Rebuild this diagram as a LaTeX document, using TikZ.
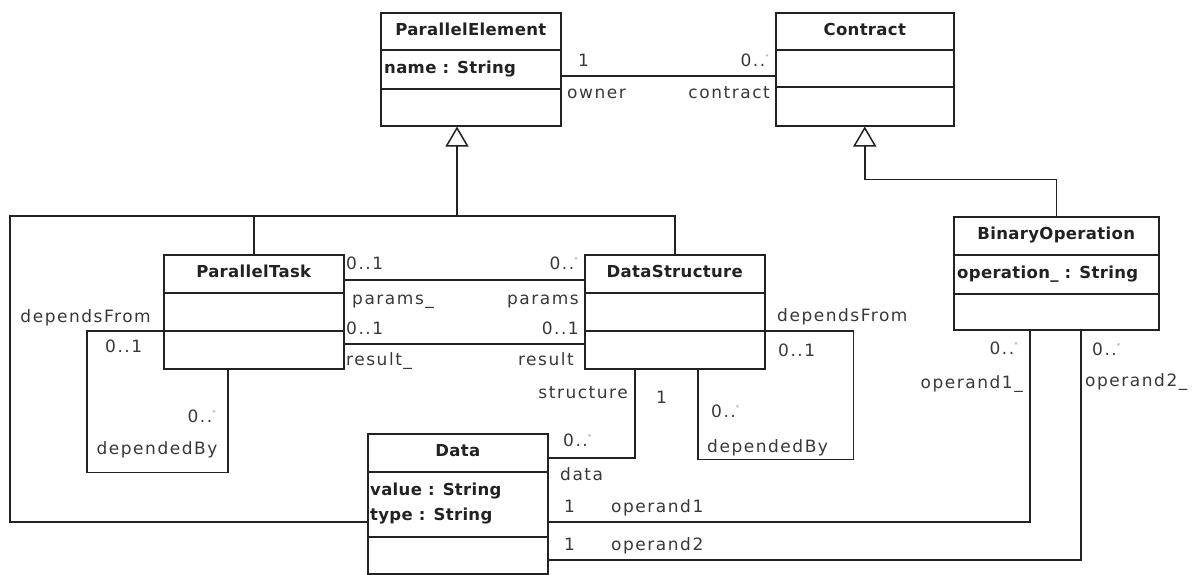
\documentclass[tikz,border=0pt]{standalone}
\usepackage{fontspec}
\setmainfont{DejaVu Sans}[LetterSpace=9]
\newfontfamily\clsfont{DejaVu Sans}[LetterSpace=2]
\usetikzlibrary{arrows.meta,calc,shadows}
\definecolor{ink}{HTML}{222222}
\definecolor{lbl}{HTML}{383838}
% multiplicity "0..*" with a small raised star
\newcommand{\many}{0..\raisebox{0.42em}{\fontsize{7}{7}\selectfont\color{black!40}*}}
\begin{document}
\begin{tikzpicture}[x=1pt,y=-1pt,
  cls/.style={draw=ink, line width=1.5pt, fill=white, rectangle, inner sep=0pt,
    anchor=north west, minimum width=180pt,
    drop shadow={shadow xshift=1.4pt, shadow yshift=-1.4pt, opacity=0.3}},
  sep/.style={draw=ink, line width=1.5pt},
  conn/.style={draw=ink, line width=1.5pt},
  gen/.style={conn, -{Triangle[open, length=20pt, width=23pt, line width=1.5pt]}},
  title/.style={font=\clsfont\bfseries\fontsize{16.5}{16.5}\selectfont, text=ink,
    inner sep=0pt, text height=12.5pt, text depth=3.6pt},
  attr/.style={title, anchor=west},
  lab/.style={font=\fontsize{17}{17}\selectfont, text=lbl, inner sep=0pt,
    text height=12.8pt, text depth=3.8pt},
]
\useasboundingbox (0,0) rectangle (1194,574);

% ---------- classes ----------
\node[cls, minimum height=113pt] (pe) at (380,12) {};
\draw[sep] ($(pe.north west)+(0,38)$) -- ($(pe.north east)+(0,38)$);
\draw[sep] ($(pe.north west)+(0,77)$) -- ($(pe.north east)+(0,77)$);
\node[title] (peT) at ($(pe.north)+(0,19)$) {ParallelElement};
\node[attr] (peA) at ($(pe.north west)+(4,57)$) {name : String};

\node[cls, minimum width=178pt, minimum height=113pt] (contract) at (775,12) {};
\draw[sep] ($(contract.north west)+(0,38)$) -- ($(contract.north east)+(0,38)$);
\draw[sep] ($(contract.north west)+(0,75)$) -- ($(contract.north east)+(0,75)$);
\node[title] (contractT) at ($(contract.north)+(0,19)$) {Contract};

\node[cls, minimum height=114pt] (pt) at (163,254) {};
\draw[sep] ($(pt.north west)+(0,39)$) -- ($(pt.north east)+(0,39)$);
\draw[sep] ($(pt.north west)+(0,77)$) -- ($(pt.north east)+(0,77)$);
\node[title] (ptT) at ($(pt.north)+(0,19)$) {ParallelTask};

\node[cls, minimum height=114pt] (ds) at (584,254) {};
\draw[sep] ($(ds.north west)+(0,39)$) -- ($(ds.north east)+(0,39)$);
\draw[sep] ($(ds.north west)+(0,77)$) -- ($(ds.north east)+(0,77)$);
\node[title] (dsT) at ($(ds.north)+(0,19)$) {DataStructure};

\node[cls, minimum width=205pt, minimum height=113pt] (bo) at (953,216) {};
\draw[sep] ($(bo.north west)+(0,39)$) -- ($(bo.north east)+(0,39)$);
\draw[sep] ($(bo.north west)+(0,78)$) -- ($(bo.north east)+(0,78)$);
\node[title] (boT) at ($(bo.north)+(0,19)$) {BinaryOperation};
\node[attr] (boA) at ($(bo.north west)+(4,58)$) {operation\_ : String};

\node[cls, minimum height=140pt] (data) at (367,433) {};
\draw[sep] ($(data.north west)+(0,39)$) -- ($(data.north east)+(0,39)$);
\draw[sep] ($(data.north west)+(0,104)$) -- ($(data.north east)+(0,104)$);
\node[title] (dataT) at ($(data.north)+(0,19)$) {Data};
\node[attr] (dataA1) at ($(data.north west)+(3,58)$) {value : String};
\node[attr] (dataA2) at ($(data.north west)+(3,83)$) {type : String};

% ---------- generalizations ----------
\coordinate (hub) at (457,216);
\coordinate (rail) at (10,216);
\draw[gen] (hub) -- ($(pe.south west)+(77,0)$);
\draw[conn] ($(data.north west)+(0,89)$) -| (rail) -| (ds.north);
\draw[conn] (pt.north) -- (pt.north |- hub);
\draw[gen] (bo.north) |- ($(contract.south)+(0,53)$) -- (contract.south);

% ---------- associations ----------
\draw[conn] ($(pe.north east)+(0,64)$) -- ($(contract.north west)+(0,64)$);
\draw[conn] ($(pt.north east)+(0,26)$) -- ($(ds.north west)+(0,26)$);
\draw[conn] ($(pt.north east)+(0,90)$) -- ($(ds.north west)+(0,90)$);
\draw[conn] ($(pt.north west)+(0,77)$) -- ++(-76,0) |- ($(pt.south west)+(65,103)$) -- ($(pt.south west)+(65,0)$);
\draw[conn] ($(ds.north east)+(0,77)$) -- ++(88,0) |- ($(ds.south west)+(114,90)$) -- ($(ds.south west)+(114,0)$);
\draw[conn] ($(ds.south west)+(51,0)$) |- ($(data.north east)+(0,25)$);
\draw[conn] ($(data.north east)+(0,89)$) -| ($(bo.south west)+(77,0)$);
\draw[conn] ($(data.north east)+(0,127)$) -| ($(bo.south west)+(128,0)$);

% ---------- association end labels ----------
\node[lab, anchor=west] (m1) at (578,62) {1};
\node[lab, anchor=east] (m2) at (769,62) {\many};
\node[lab, anchor=west] (r1) at (567,94) {owner};
\node[lab, anchor=east] (r2) at (770,94) {contract};

\node[lab, anchor=west] (m3) at (346,265) {0..1};
\node[lab, anchor=east] (m4) at (578,265) {\many};
\node[lab, anchor=west] (r3) at (352,300) {params\_};
\node[lab, anchor=east] (r4) at (579,300) {params};

\node[lab, anchor=west] (m5) at (346,330) {0..1};
\node[lab, anchor=east] (m6) at (579,330) {0..1};
\node[lab, anchor=west] (r5) at (346,361) {result\_};
\node[lab, anchor=east] (r6) at (574,361) {result};

\node[lab, anchor=east] (r7) at (151,318) {dependsFrom};
\node[lab, anchor=west] (m7) at (105,348) {0..1};
\node[lab, anchor=east] (m8) at (216,418) {\many};
\node[lab] (r8) at (157,450) {dependedBy};

\node[lab, anchor=west] (r9) at (777,317) {dependsFrom};
\node[lab, anchor=west] (m9) at (778,352) {0..1};
\node[lab, anchor=west] (m10) at (711,413) {\many};
\node[lab, anchor=west] (r10) at (707,448) {dependedBy};

\node[lab, anchor=east] (r11) at (628,394) {structure};
\node[lab, anchor=west] (m11) at (656,399) {1};
\node[lab, anchor=west] (m12) at (563,442) {\many};
\node[lab, anchor=west] (r12) at (560,476) {data};

\node[lab, anchor=west] (m13) at (564,508) {1};
\node[lab, anchor=west] (r13) at (611,508) {operand1};
\node[lab, anchor=west] (m14) at (564,546) {1};
\node[lab, anchor=west] (r14) at (611,546) {operand2};

\node[lab, anchor=east] (m15) at (1018,350) {\many};
\node[lab, anchor=east] (r15) at (1023,384) {operand1\_};
\node[lab, anchor=west] (m16) at (1092,351) {\many};
\node[lab, anchor=west] (r16) at (1085,382) {operand2\_};
\end{tikzpicture}
\end{document}
